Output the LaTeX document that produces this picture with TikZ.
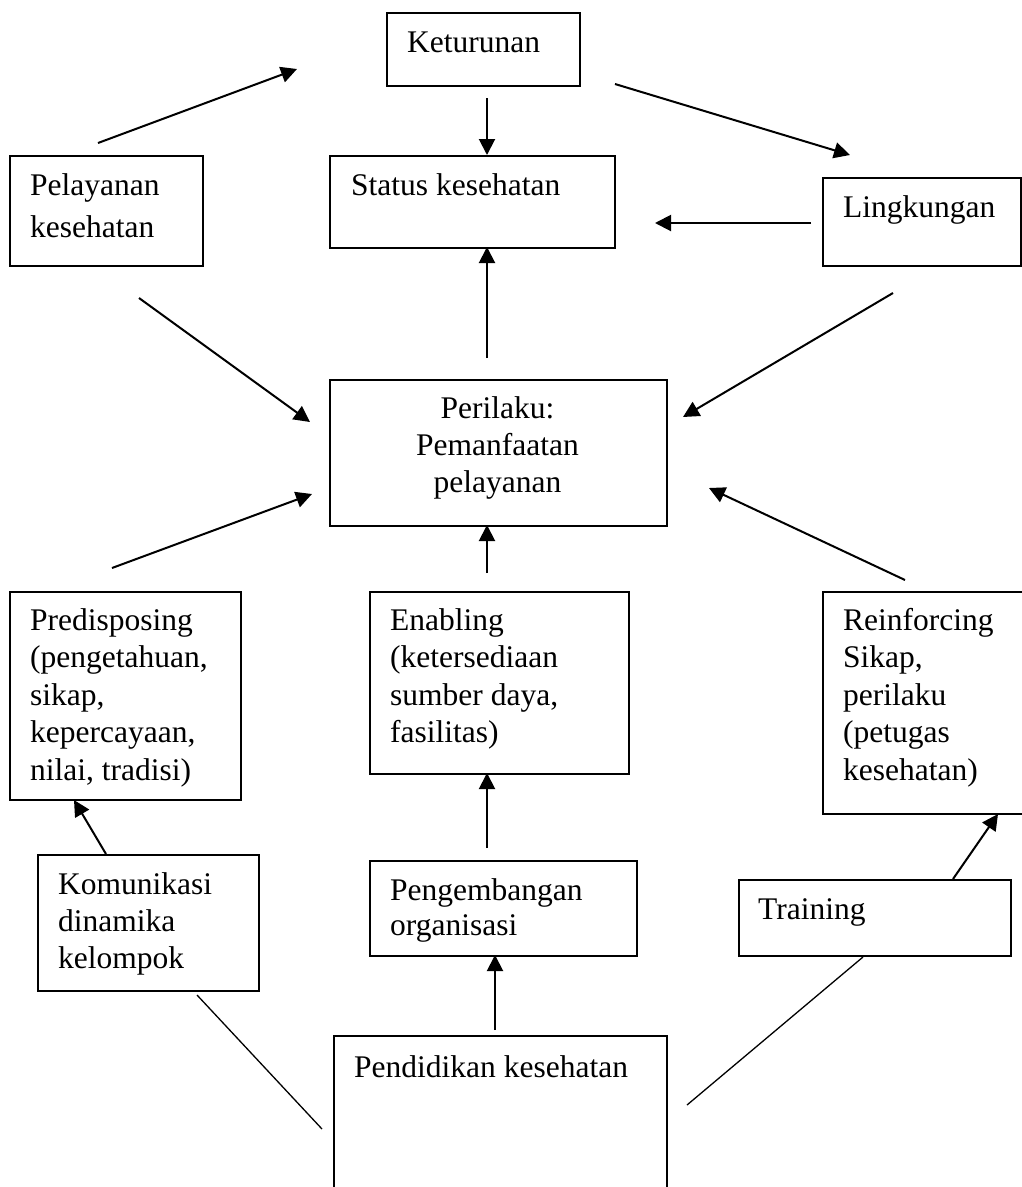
\documentclass[tikz,border=0pt]{standalone}
\usepackage{fontspec}
\setmainfont{Liberation Serif}
\usetikzlibrary{arrows.meta}
\newcommand{\lines}[2][l]{\begin{tabular}[t]{@{}#1@{}}#2\end{tabular}}
\begin{document}
\begin{tikzpicture}[x=1pt,y=-1pt,
  box/.style={draw, line width=1.5pt, anchor=north west, inner sep=0pt},
  txt/.style={anchor=base west, inner sep=0pt, font=\fontsize{31.5}{37.5}\selectfont},
  arr/.style={line width=2pt, -{Triangle[length=16pt,width=16pt]}},
  ln/.style={line width=1.3pt}]
\useasboundingbox (0,0) rectangle (1022,1187);
\clip (0,0) rectangle (1022,1187);
% boxes
\node[box, minimum width=193pt, minimum height=73pt]  (ket)   at (386,12)  {};
\node[box, minimum width=285pt, minimum height=92pt]  (stat)  at (329,155) {};
\node[box, minimum width=193pt, minimum height=110pt] (pel)   at (9,155)   {};
\node[box, minimum width=198pt, minimum height=88pt]  (ling)  at (822,177) {};
\node[box, minimum width=337pt, minimum height=146pt] (per)   at (329,379) {};
\node[box, minimum width=231pt, minimum height=208pt] (pred)  at (9,591)   {};
\node[box, minimum width=259pt, minimum height=182pt] (enab)  at (369,591) {};
\node[box, minimum width=230pt, minimum height=222pt] (reinf) at (822,591) {};
\node[box, minimum width=221pt, minimum height=136pt] (kom)   at (37,854)  {};
\node[box, minimum width=267pt, minimum height=95pt]  (peng)  at (369,860) {};
\node[box, minimum width=272pt, minimum height=76pt]  (train) at (738,879) {};
\node[box, minimum width=333pt, minimum height=200pt] (pend)  at (333,1035) {};
% texts
\node[txt] (ketT)  at (407,52)  {Keturunan};
\node[txt] (statT) at (351,195) {Status kesehatan};
\node[txt, font=\fontsize{31.5}{42}\selectfont] (pelT) at (30,195) {\lines{Pelayanan\\kesehatan}};
\node[txt] (lingT) at (843,217) {Lingkungan};
\node[txt, anchor=base, font=\fontsize{31.5}{37}\selectfont] (perT) at (497.5,418) {\lines[c]{Perilaku:\\Pemanfaatan\\pelayanan}};
\node[txt] (predT) at (30,630)  {\lines{Predisposing\\(pengetahuan,\\sikap,\\kepercayaan,\\nilai, tradisi)}};
\node[txt] (enabT) at (390,630) {\lines{Enabling\\(ketersediaan\\sumber daya,\\fasilitas)}};
\node[txt] (reinfT) at (843,630) {\lines{Reinforcing\\Sikap,\\perilaku\\(petugas\\kesehatan)}};
\node[txt, font=\fontsize{31.5}{37}\selectfont] (komT) at (58,894) {\lines{Komunikasi\\dinamika\\kelompok}};
\node[txt, font=\fontsize{31.5}{35.5}\selectfont] (pengT) at (390,900) {\lines{Pengembangan\\organisasi}};
\node[txt] (trainT) at (758,919) {Training};
\node[txt] (pendT) at (354,1077) {Pendidikan kesehatan};
% connector end points
\coordinate (a1s) at (98,143);  \coordinate (a1e) at (297,69);
\coordinate (a2s) at (487,98);  \coordinate (a2e) at (487,155);
\coordinate (a3s) at (615,84);  \coordinate (a3e) at (850,155);
\coordinate (a4s) at (811,223); \coordinate (a4e) at (655,223);
\coordinate (a5s) at (487,358); \coordinate (a5e) at (487,247);
\coordinate (a6s) at (139,298); \coordinate (a6e) at (310,422);
\coordinate (a7s) at (893,293); \coordinate (a7e) at (683,417);
\coordinate (a8s) at (112,568); \coordinate (a8e) at (312,494);
\coordinate (a9s) at (487,573); \coordinate (a9e) at (487,525);
\coordinate (a10s) at (905,580); \coordinate (a10e) at (709,488);
\coordinate (a11s) at (487,848); \coordinate (a11e) at (487,773);
\coordinate (a12s) at (106,854); \coordinate (a12e) at (74,800);
\coordinate (a13s) at (953,879); \coordinate (a13e) at (998,814);
\coordinate (a14s) at (495,1030); \coordinate (a14e) at (495,955);
\coordinate (l1s) at (197,995); \coordinate (l1e) at (322,1129);
\coordinate (l2s) at (863,957); \coordinate (l2e) at (687,1105);
% connectors
\draw[arr] (a1s) -- (a1e);
\draw[arr] (a2s) -- (a2e);
\draw[arr] (a3s) -- (a3e);
\draw[arr] (a4s) -- (a4e);
\draw[arr] (a5s) -- (a5e);
\draw[arr] (a6s) -- (a6e);
\draw[arr] (a7s) -- (a7e);
\draw[arr] (a8s) -- (a8e);
\draw[arr] (a9s) -- (a9e);
\draw[arr] (a10s) -- (a10e);
\draw[arr] (a11s) -- (a11e);
\draw[arr] (a12s) -- (a12e);
\draw[arr] (a13s) -- (a13e);
\draw[arr] (a14s) -- (a14e);
\draw[ln] (l1s) -- (l1e);
\draw[ln] (l2s) -- (l2e);
\end{tikzpicture}
\end{document}
